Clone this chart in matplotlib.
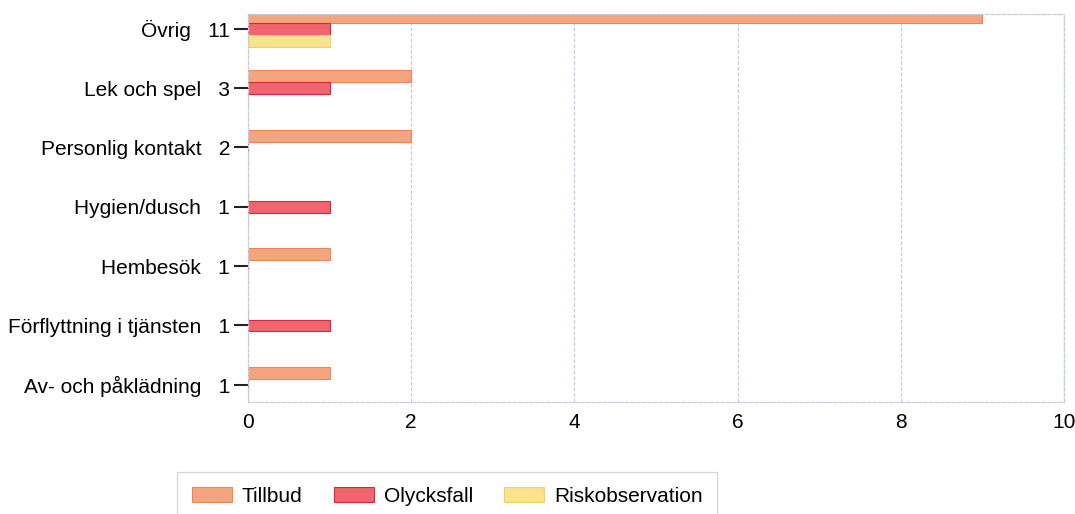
import numpy as np
import matplotlib.pyplot as plt

plt.rcParams['font.family'] = ['Liberation Sans', 'DejaVu Sans']

categories = ["Övrig", "Lek och spel", "Personlig kontakt", "Hygien/dusch",
              "Hembesök", "Förflyttning i tjänsten", "Av- och påklädning"]
tillbud = [9, 2, 2, 0, 1, 0, 1]
olycksfall = [1, 1, 0, 1, 0, 1, 0]
risk = [1, 0, 0, 0, 0, 0, 0]
totals = [11, 3, 2, 1, 1, 1, 1]

series = [
    ("Tillbud", tillbud, '#f5a57e', '#e8875c', -0.2),
    ("Olycksfall", olycksfall, '#f0656f', '#d42a40', 0.0),
    ("Riskobservation", risk, '#f9e38e', '#f0d060', 0.2),
]

fig = plt.figure(figsize=(10.75, 5.14), dpi=100)
ax = fig.add_axes([0.2307, 0.2179, 0.759, 0.7549])

y = np.arange(len(categories))
for name, vals, fc, ec, off in series:
    ax.barh(y + off, vals, height=0.2, color=fc, edgecolor=ec, linewidth=0.8, label=name)

ax.set_ylim(6.29, -0.25)
ax.set_xlim(0, 10)
ax.set_xticks([0, 2, 4, 6, 8, 10])
ax.set_yticks(y)
ax.set_yticklabels([f"{c}   {t}" for c, t in zip(categories, totals)])
ax.tick_params(axis='y', length=10, width=1.5, color='#222222', labelsize=15, pad=3)
ax.tick_params(axis='x', length=0, labelsize=15, pad=8)

ax.grid(axis='x', color='#c5cde0', linestyle=(0, (3, 1.5)), linewidth=0.9)
ax.set_axisbelow(True)
for s in ax.spines.values():
    s.set_color('#c5cde0')
    s.set_linestyle((0, (3, 1.5)))
    s.set_linewidth(0.9)

leg = fig.legend(loc='upper left', bbox_to_anchor=(177 / 1075, 1 - 472 / 514), ncol=3,
                 fontsize=15, frameon=True, fancybox=False, handlelength=1.92,
                 handleheight=0.77, handletextpad=0.48, columnspacing=1.5,
                 borderpad=0.7, borderaxespad=0)
leg.get_frame().set_edgecolor('#cccccc')
leg.get_frame().set_linewidth(0.9)

fig.savefig("out.png", dpi=100)
